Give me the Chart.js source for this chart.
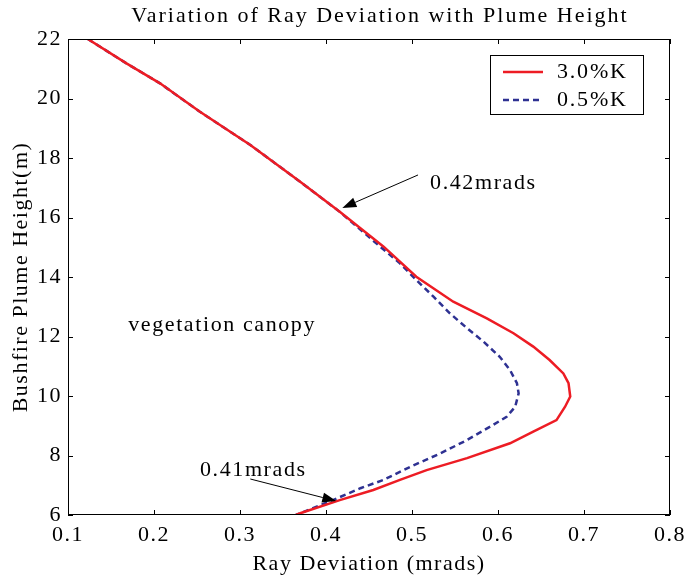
<!DOCTYPE html>
<html>
<head>
<meta charset="utf-8">
<script src="https://cdn.jsdelivr.net/npm/chart.js@4"></script>
<style>
  html, body { margin: 0; padding: 0; background: #fff; }
  #wrap { width: 687px; height: 577px; }
</style>
</head>
<body>
<div id="wrap"><canvas id="myChart" width="687" height="577"></canvas></div>
<script>
// 3.0%K series (plume height in m, deviation in mrads)
const heights30 = [22, 21.18, 20.51, 19.56, 18.44, 17.2, 16.19, 15.02, 14.01, 13.17, 12.61, 12.11, 11.66, 11.21, 10.76, 10.43, 9.98, 9.64, 9.19, 8.8, 8.41, 7.91, 7.51, 7.18, 6.84, 6.5, 6.06, 6];
const deviation30 = [0.123, 0.168, 0.207, 0.253, 0.312, 0.37, 0.416, 0.467, 0.505, 0.548, 0.587, 0.618, 0.641, 0.66, 0.676, 0.682, 0.684, 0.678, 0.668, 0.641, 0.614, 0.564, 0.517, 0.486, 0.455, 0.416, 0.37, 0.365];

// 0.5%K series
const heights05 = [22, 21.18, 20.51, 19.56, 18.44, 17.2, 16.19, 15.02, 14.46, 13.9, 13.34, 12.78, 12.28, 11.83, 11.32, 10.87, 10.43, 10.09, 9.64, 9.3, 8.97, 8.52, 8.07, 7.62, 7.18, 6.9, 6.5, 6.06, 6];
const deviation05 = [0.123, 0.168, 0.207, 0.253, 0.312, 0.37, 0.416, 0.463, 0.486, 0.505, 0.525, 0.544, 0.564, 0.583, 0.602, 0.614, 0.622, 0.624, 0.62, 0.61, 0.591, 0.564, 0.533, 0.498, 0.467, 0.44, 0.408, 0.37, 0.365];

const seriesLabels = ["3.0%K", "0.5%K"];
const chartTitle = "Variation of Ray Deviation with Plume Height";

// text notes on the plot, placed in data units
const notes = [
  { text: "0.42mrads", x: 0.521, y: 17.16, from: [0.507, 17.43], to: [0.419, 16.32] },
  { text: "0.41mrads", x: 0.2535, y: 7.51, from: [0.312, 7.21], to: [0.412, 6.47] },
  { text: "vegetation canopy", x: 0.17, y: 12.39 }
];

const serif = "'Liberation Serif', 'Times New Roman', serif";
const red = "#ed1c24";
const blue = "#2e3192";

function toPoints(xs, ys) {
  return xs.map((x, i) => ({ x: x, y: ys[i] }));
}

// the exported figure has loose letter spacing
const spacing = {
  id: "spacing",
  beforeUpdate(chart) {
    chart.ctx.letterSpacing = "1.5px";
  },
  beforeDraw(chart) {
    chart.ctx.letterSpacing = "1.5px";
  }
};

// box, inward ticks, title, notes and legend in MATLAB style
const matlabStyle = {
  id: "matlabStyle",
  afterDraw(chart) {
    const ctx = chart.ctx;
    const a = chart.chartArea;
    const xs = chart.scales.x;
    const ys = chart.scales.y;
    ctx.save();
    ctx.strokeStyle = "#000";
    ctx.lineWidth = 1;
    ctx.strokeRect(a.left + 0.5, a.top + 0.5, a.right - a.left - 1, a.bottom - a.top - 1);

    // ticks
    const len = 5;
    ctx.beginPath();
    xs.ticks.forEach((t) => {
      const px = Math.round(xs.getPixelForValue(t.value)) + 0.5;
      ctx.moveTo(px, a.bottom);
      ctx.lineTo(px, a.bottom - len);
      ctx.moveTo(px, a.top);
      ctx.lineTo(px, a.top + len);
    });
    ys.ticks.forEach((t) => {
      const py = Math.round(ys.getPixelForValue(t.value)) + 0.5;
      ctx.moveTo(a.left, py);
      ctx.lineTo(a.left + len, py);
      ctx.moveTo(a.right, py);
      ctx.lineTo(a.right - len, py);
    });
    ctx.stroke();

    // title
    ctx.fillStyle = "#000";
    ctx.letterSpacing = "2px";
    ctx.font = "22px " + serif;
    ctx.textAlign = "center";
    ctx.textBaseline = "middle";
    ctx.fillText(chartTitle, 380, 16);

    // notes with arrows
    ctx.letterSpacing = "1.6px";
    ctx.textAlign = "left";
    ctx.font = "22px " + serif;
    notes.forEach((n) => {
      ctx.fillText(n.text, xs.getPixelForValue(n.x), ys.getPixelForValue(n.y));
      if (n.from) {
        const x1 = xs.getPixelForValue(n.from[0]);
        const y1 = ys.getPixelForValue(n.from[1]);
        const x2 = xs.getPixelForValue(n.to[0]);
        const y2 = ys.getPixelForValue(n.to[1]);
        const ang = Math.atan2(y2 - y1, x2 - x1);
        const hl = 14, hw = 5;
        const bx = x2 - hl * Math.cos(ang);
        const by = y2 - hl * Math.sin(ang);
        ctx.beginPath();
        ctx.moveTo(x1, y1);
        ctx.lineTo(bx, by);
        ctx.stroke();
        ctx.beginPath();
        ctx.moveTo(x2, y2);
        ctx.lineTo(bx + hw * Math.sin(ang), by - hw * Math.cos(ang));
        ctx.lineTo(bx - hw * Math.sin(ang), by + hw * Math.cos(ang));
        ctx.closePath();
        ctx.fill();
      }
    });

    // legend
    const lx = a.left + 422, ly = a.top + 16, lw = 153, lh = 59;
    ctx.fillStyle = "#fff";
    ctx.fillRect(lx, ly, lw, lh);
    ctx.strokeRect(lx + 0.5, ly + 0.5, lw, lh);
    ctx.lineWidth = 2.5;
    ctx.strokeStyle = red;
    ctx.beginPath();
    ctx.moveTo(lx + 13, ly + 17);
    ctx.lineTo(lx + 53, ly + 17);
    ctx.stroke();
    ctx.strokeStyle = blue;
    ctx.setLineDash([6, 4]);
    ctx.beginPath();
    ctx.moveTo(lx + 13, ly + 45);
    ctx.lineTo(lx + 53, ly + 45);
    ctx.stroke();
    ctx.setLineDash([]);
    ctx.fillStyle = "#000";
    ctx.letterSpacing = "1.8px";
    ctx.font = "22px " + serif;
    ctx.fillText(seriesLabels[0], lx + 67, ly + 17);
    ctx.fillText(seriesLabels[1], lx + 67, ly + 45);
    ctx.restore();
  }
};

const ctx = document.getElementById("myChart");

const myChart = new Chart(ctx, {
  type: "scatter",
  data: {
    datasets: [
      {
        label: seriesLabels[0],
        data: toPoints(deviation30, heights30),
        showLine: true,
        borderColor: red,
        borderWidth: 2.5,
        pointRadius: 0,
        tension: 0,
      },
      {
        label: seriesLabels[1],
        data: toPoints(deviation05, heights05),
        showLine: true,
        borderColor: blue,
        borderWidth: 2.5,
        borderDash: [6, 4],
        pointRadius: 0,
        tension: 0,
      },
    ],
  },
  options: {
    responsive: false,
    animation: false,
    layout: { padding: { top: 39, right: 17, left: 0, bottom: 0 } },
    plugins: {
      legend: { display: false },
      tooltip: { enabled: false },
    },
    scales: {
      x: {
        type: "linear",
        min: 0.1,
        max: 0.8,
        grid: { display: false, drawTicks: false },
        border: { display: false },
        ticks: {
          stepSize: 0.1,
          padding: 7,
          color: "#000",
          font: { family: serif, size: 22 },
          maxRotation: 0,
        },
        title: {
          display: true,
          text: "Ray Deviation (mrads)",
          color: "#000",
          font: { family: serif, size: 22 },
          padding: { top: 0, bottom: 0 },
        },
        afterFit(scale) {
          scale.height = 62;
          scale.paddingLeft = 0;
          scale.paddingRight = 0;
        },
      },
      y: {
        type: "linear",
        min: 6,
        max: 22,
        grid: { display: false, drawTicks: false },
        border: { display: false },
        ticks: {
          stepSize: 2,
          padding: 6,
          color: "#000",
          font: { family: serif, size: 22 },
        },
        title: {
          display: true,
          text: "Bushfire Plume Height(m)",
          color: "#000",
          font: { family: serif, size: 22 },
          padding: { top: 8, bottom: 0 },
        },
        afterFit(scale) {
          scale.width = 68;
          scale.paddingTop = 0;
          scale.paddingBottom = 0;
        },
      },
    },
  },
  plugins: [spacing, matlabStyle],
});
</script>
</body>
</html>
